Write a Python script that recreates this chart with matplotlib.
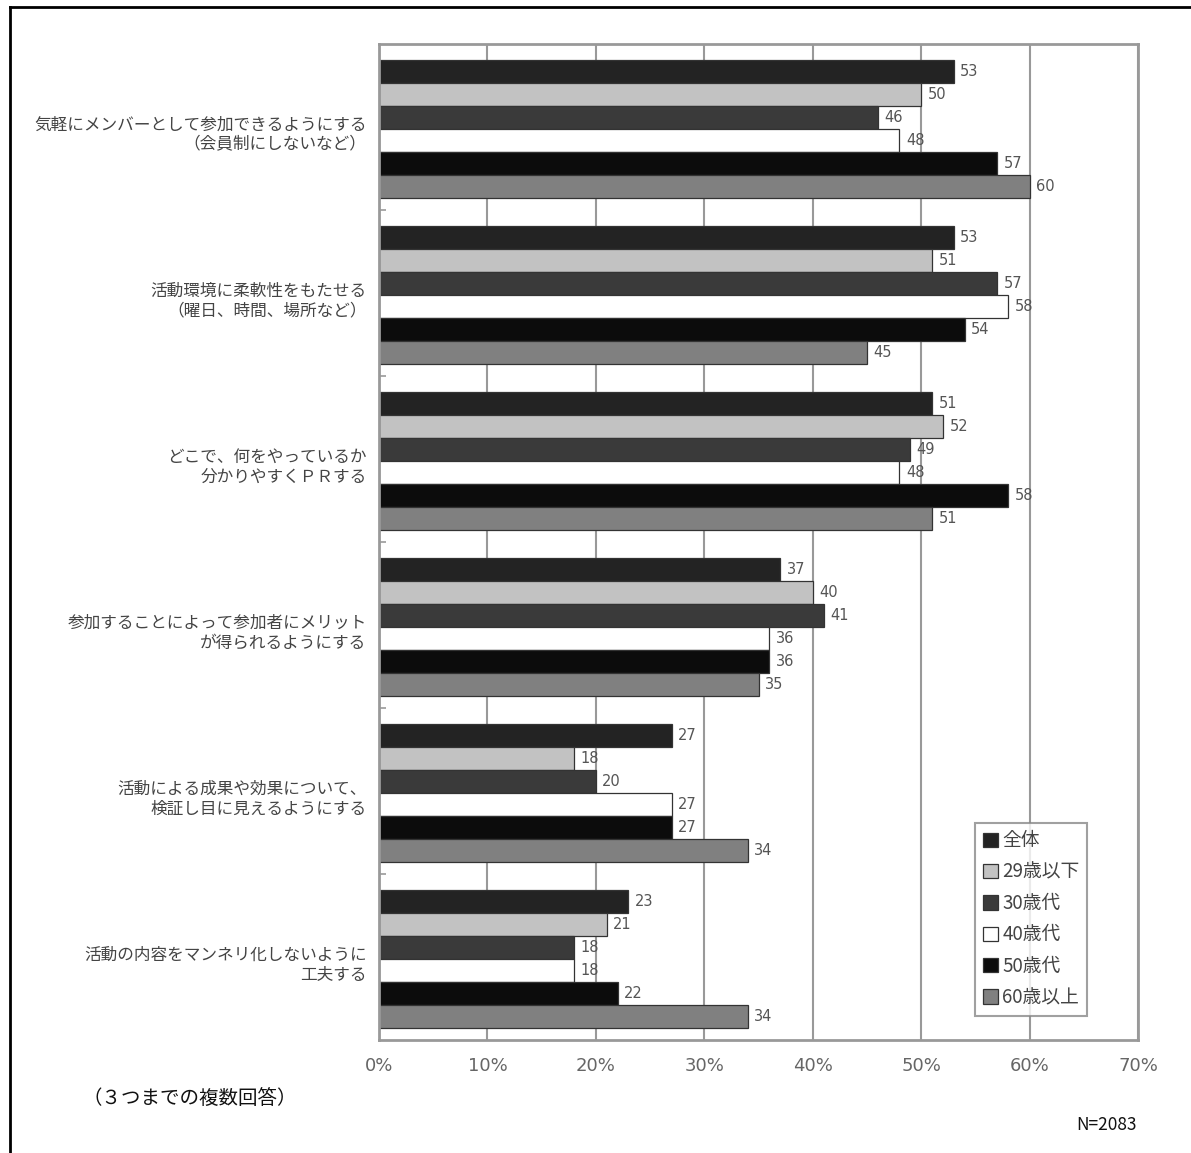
import matplotlib.pyplot as plt
from matplotlib.lines import Line2D
from matplotlib.patches import Patch

plt.rcParams['font.family'] = ['Noto Sans CJK JP', 'DejaVu Sans']

# 項目（上から順）
categories = [
    "気軽にメンバーとして参加できるようにする\n（会員制にしないなど）",
    "活動環境に柔軟性をもたせる\n（曜日、時間、場所など）",
    "どこで、何をやっているか\n分かりやすくＰＲする",
    "参加することによって参加者にメリット\nが得られるようにする",
    "活動による成果や効果について、\n検証し目に見えるようにする",
    "活動の内容をマンネリ化しないように\n工夫する",
]

series_names = ["全体", "29歳以下", "30歳代", "40歳代", "50歳代", "60歳以上"]

# 各項目の値（%）
all_resp = [53, 53, 51, 37, 27, 23]
age_u29 = [50, 51, 52, 40, 18, 21]
age_30s = [46, 57, 49, 41, 20, 18]
age_40s = [48, 58, 48, 36, 27, 18]
age_50s = [57, 54, 58, 36, 27, 22]
age_60p = [60, 45, 51, 35, 34, 34]

series_values = [all_resp, age_u29, age_30s, age_40s, age_50s, age_60p]
colors = ["#232323", "#c2c2c2", "#3a3a3a", "#ffffff", "#0c0c0c", "#808080"]

x_ticks = [0, 10, 20, 30, 40, 50, 60, 70]

fig = plt.figure(figsize=(11.91, 11.53), dpi=100)
ax = fig.add_axes([379 / 1191, 1 - 1040 / 1153, 759 / 1191, 996 / 1153])

group_px = 166.0
bar_h = 23.0 / group_px
top_off = 16.0 / group_px

for j, (name, vals, c) in enumerate(zip(series_names, series_values, colors)):
    ys = [i + top_off + bar_h * (j + 0.5) for i in range(len(categories))]
    ax.barh(ys, vals, height=bar_h, color=c, edgecolor="#333333",
            linewidth=0.9, label=name, zorder=2)
    for y, v in zip(ys, vals):
        ax.text(v + 0.6, y, f"{v}", va="center", ha="left",
                fontsize=10.5, color="#555555", zorder=3,
                family="DejaVu Sans")

ax.set_xlim(0, 70)
ax.set_ylim(len(categories), 0)
ax.set_xticks(x_ticks)
ax.set_xticklabels([f"{t}%" for t in x_ticks], fontsize=13, color="#666666",
                   family="DejaVu Sans")
ax.tick_params(axis="x", length=0, pad=12)

ax.set_yticks([i + 88 / group_px for i in range(len(categories))])
ax.set_yticklabels(categories, fontsize=12, color="#444444",
                   linespacing=1.2, ha="right")
ax.tick_params(axis="y", which="major", length=0, pad=9)
ax.set_yticks([1, 2, 3, 4, 5], minor=True)
ax.tick_params(axis="y", which="minor", direction="in", length=5,
               width=1.2, color="#999999")

ax.grid(axis="x", color="#999999", linewidth=1.5, zorder=0)
ax.set_axisbelow(True)
for s in ax.spines.values():
    s.set_color("#999999")
    s.set_linewidth(2)

handles = [Patch(facecolor=c, edgecolor="#333333", linewidth=0.9, label=n)
           for n, c in zip(series_names, colors)]
leg = ax.legend(handles=handles, loc="upper left",
                bbox_to_anchor=((975 - 379) / 759, 1 - (823 - 44) / 996),
                fontsize=13.5, frameon=True, fancybox=False,
                handlelength=0.8, handleheight=0.8, handletextpad=0.25,
                labelspacing=0.55, borderpad=0.4, borderaxespad=0)
leg.get_frame().set_edgecolor("#888888")
leg.get_frame().set_linewidth(1.5)
for t in leg.get_texts():
    t.set_color("#444444")

fig.text(82 / 1191, 1 - 1098 / 1153, "（３つまでの複数回答）", fontsize=14,
         color="#111111", va="center", ha="left")
fig.text(1137 / 1191, 1 - 1125 / 1153, "N=2083", fontsize=12.5,
         color="#111111", va="center", ha="right")

# 外枠
fig.add_artist(Line2D([10 / 1191, 10 / 1191], [0, 1 - 6.5 / 1153],
                      transform=fig.transFigure, color="black", linewidth=2))
fig.add_artist(Line2D([10 / 1191, 1], [1 - 6.5 / 1153, 1 - 6.5 / 1153],
                      transform=fig.transFigure, color="black", linewidth=2))

fig.savefig("out.png", dpi=100)
